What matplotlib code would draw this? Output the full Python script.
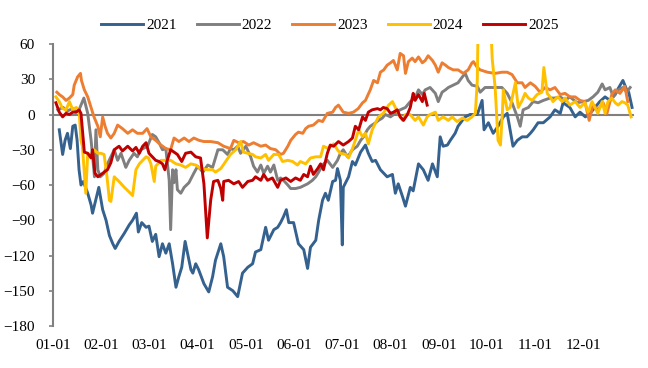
import numpy as np
import matplotlib.pyplot as plt

plt.rcParams['font.family'] = ['Liberation Serif', 'DejaVu Serif']

# x positions are in months since 01-01 (0 = 01-01, 1 = 02-01, ...)
t_2021 = [0.13, 0.20, 0.25, 0.30, 0.36, 0.41, 0.46, 0.50, 0.54, 0.58, 0.63, 0.72, 0.79, 0.82, 0.88, 0.95,
          1.03, 1.10, 1.17, 1.24, 1.29, 1.37, 1.48, 1.58, 1.65, 1.73, 1.77, 1.84, 1.93, 1.99, 2.06, 2.13,
          2.20, 2.27, 2.34, 2.41, 2.48, 2.55, 2.61, 2.67, 2.74, 2.79, 2.86, 2.90, 2.96, 3.02, 3.13, 3.23,
          3.31, 3.37, 3.48, 3.54, 3.62, 3.73, 3.83, 3.93, 4.04, 4.14, 4.20, 4.31, 4.41, 4.47, 4.58, 4.66,
          4.72, 4.78, 4.84, 4.89, 4.99, 5.09, 5.20, 5.28, 5.34, 5.45, 5.51, 5.59, 5.65, 5.71, 5.80, 5.86,
          5.90, 5.96, 6.00, 6.02, 6.13, 6.21, 6.27, 6.38, 6.48, 6.54, 6.62, 6.69, 6.79, 6.93, 7.04, 7.10,
          7.16, 7.25, 7.31, 7.41, 7.47, 7.58, 7.68, 7.78, 7.87, 7.97, 8.03, 8.09, 8.18, 8.24, 8.34, 8.40,
          8.49, 8.55, 8.65, 8.80, 8.90, 8.94, 9.03, 9.13, 9.23, 9.34, 9.42, 9.48, 9.54, 9.63, 9.73, 9.83,
          9.90, 9.96, 10.06, 10.17, 10.31, 10.41, 10.52, 10.58, 10.72, 10.83, 10.93, 11.04, 11.14, 11.24,
          11.34, 11.45, 11.55, 11.66, 11.72, 11.82, 11.90, 11.94, 12.01]
v_2021 = [-13, -34, -22, -16, -29, -10, -9, -22, -47, -60, -57, -67, -77, -84, -74, -62,
          -81, -90, -103, -110, -114, -108, -101, -94, -90, -84, -100, -92, -96, -95, -108, -102,
          -121, -110, -118, -110, -127, -147, -138, -130, -108, -118, -132, -135, -127, -132, -144, -151,
          -138, -124, -110, -121, -147, -150, -155, -135, -130, -127, -117, -115, -96, -107, -98, -96,
          -92, -87, -81, -92, -92, -110, -115, -131, -113, -107, -90, -73, -67, -73, -57, -56,
          -46, -56, -111, -62, -53, -40, -43, -32, -26, -33, -40, -39, -47, -53, -51, -67,
          -59, -70, -78, -62, -65, -42, -47, -56, -42, -53, -19, -27, -26, -22, -16, -10,
          -5, -2, 0, 0, 12, -13, -7, -16, -10, -2, 1, -13, -27, -22, -19, -19,
          -16, -13, -7, -7, -2, 4, 1, 10, 6, -2, 2, -2, 1, 6,
          11, 15, 12, 17, 22, 29, 21, 19, 6]

t_2022 = [0.10, 0.21, 0.29, 0.41, 0.48, 0.54, 0.64, 0.72, 0.79, 0.86, 0.89, 0.93, 0.98, 1.06, 1.13, 1.20,
          1.27, 1.34, 1.41, 1.51, 1.58, 1.68, 1.75, 1.82, 1.96, 2.06, 2.13, 2.20, 2.27, 2.34, 2.41, 2.44,
          2.48, 2.51, 2.55, 2.58, 2.65, 2.72, 2.82, 2.92, 3.00, 3.11, 3.21, 3.31, 3.42, 3.52, 3.62, 3.68,
          3.75, 3.83, 3.89, 4.00, 4.10, 4.16, 4.24, 4.31, 4.37, 4.45, 4.51, 4.58, 4.66, 4.72, 4.78, 4.87,
          4.93, 5.03, 5.13, 5.28, 5.38, 5.45, 5.51, 5.59, 5.69, 5.80, 5.90, 5.96, 6.02, 6.11, 6.21, 6.31,
          6.38, 6.44, 6.52, 6.58, 6.69, 6.75, 6.83, 6.89, 7.00, 7.10, 7.20, 7.31, 7.41, 7.51, 7.58, 7.66,
          7.72, 7.82, 7.93, 7.99, 8.07, 8.14, 8.20, 8.30, 8.40, 8.49, 8.55, 8.61, 8.69, 8.80, 8.86, 8.96,
          9.13, 9.31, 9.42, 9.52, 9.63, 9.69, 9.75, 9.86, 9.96, 10.06, 10.17, 10.31, 10.41, 10.52, 10.62,
          10.72, 10.87, 11.00, 11.10, 11.20, 11.30, 11.39, 11.45, 11.55, 11.62, 11.72, 11.82, 11.90, 11.97]
v_2022 = [4, 6, 3, 5, 2, 4, 14, 1, -22, -53, -13, -47, -53, -50, -42, -36,
          -30, -39, -33, -45, -39, -33, -36, -30, -27, -17, -19, -24, -30, -29, -56, -98,
          -47, -58, -47, -64, -67, -62, -58, -50, -44, -49, -43, -45, -30, -30, -34, -29,
          -30, -27, -33, -27, -36, -44, -49, -43, -50, -44, -49, -43, -56, -54, -56, -60,
          -63, -63, -62, -59, -56, -53, -49, -43, -39, -45, -39, -33, -30, -36, -30, -27,
          -22, -19, -13, -10, -7, -5, -3, 0, -2, 1, 4, 6, 11, 14, 21, 17,
          21, 23, 18, 11, 19, 21, 23, 25, 27, 32, 35, 29, 25, 24, 19, 23,
          23, 23, 18, 10, -2, -10, 4, 6, 11, 10, 12, 14, 14, 15, 12,
          15, 10, 11, 12, 15, 19, 26, 21, 23, 15, 21, 23, 19, 23]

t_2023 = [0.08, 0.13, 0.20, 0.27, 0.34, 0.41, 0.44, 0.51, 0.57, 0.59, 0.65, 0.72, 0.79, 0.85, 0.93, 0.98,
          1.03, 1.08, 1.13, 1.20, 1.27, 1.34, 1.44, 1.55, 1.65, 1.75, 1.86, 1.95, 2.03, 2.13, 2.24, 2.34,
          2.44, 2.51, 2.61, 2.72, 2.82, 2.92, 3.03, 3.13, 3.27, 3.42, 3.54, 3.68, 3.75, 3.85, 3.95, 4.06,
          4.16, 4.31, 4.41, 4.51, 4.62, 4.72, 4.78, 4.87, 4.93, 5.03, 5.09, 5.18, 5.24, 5.30, 5.40, 5.51,
          5.59, 5.69, 5.80, 5.86, 5.92, 6.02, 6.13, 6.23, 6.33, 6.42, 6.48, 6.58, 6.65, 6.73, 6.79, 6.86,
          6.93, 7.00, 7.06, 7.14, 7.20, 7.27, 7.31, 7.37, 7.45, 7.51, 7.58, 7.66, 7.72, 7.78, 7.87, 7.93,
          7.99, 8.07, 8.14, 8.20, 8.30, 8.40, 8.51, 8.61, 8.69, 8.72, 8.80, 8.86, 9.01, 9.17, 9.31, 9.42,
          9.52, 9.63, 9.73, 9.79, 9.90, 10.00, 10.10, 10.21, 10.31, 10.41, 10.52, 10.62, 10.72, 10.83,
          10.93, 11.03, 11.12, 11.20, 11.30, 11.41, 11.49, 11.59, 11.66, 11.76, 11.86, 11.92]
v_2023 = [19, 17, 15, 12, 14, 17, 25, 32, 35, 29, 21, 15, 6, -2, -10, -19,
          -2, -10, -16, -20, -16, -9, -12, -16, -13, -16, -16, -12, -19, -22, -26, -29,
          -30, -20, -23, -20, -23, -20, -22, -23, -23, -24, -27, -29, -22, -24, -23, -26,
          -24, -27, -26, -29, -30, -34, -33, -27, -22, -17, -15, -16, -12, -10, -9, -5,
          -6, 1, 2, 6, 8, 2, 1, 2, 5, 10, 12, 21, 29, 27, 36, 38,
          42, 44, 46, 38, 52, 50, 35, 45, 48, 45, 49, 44, 46, 50, 46, 42,
          36, 44, 42, 40, 38, 38, 35, 38, 44, 45, 40, 38, 36, 35, 36, 36,
          34, 27, 27, 23, 27, 24, 19, 23, 21, 23, 17, 18, 15, 15,
          12, 11, -5, 8, 4, 10, 1, 17, 21, 18, 24, 11]

t_2024 = [0.06, 0.13, 0.20, 0.27, 0.34, 0.41, 0.48, 0.54, 0.58, 0.61, 0.68, 0.72, 0.79, 0.85, 0.93, 0.99,
          1.06, 1.12, 1.17, 1.20, 1.27, 1.37, 1.48, 1.58, 1.65, 1.72, 1.79, 1.86, 1.93, 1.98, 2.03, 2.10,
          2.13, 2.24, 2.34, 2.44, 2.55, 2.65, 2.75, 2.86, 2.96, 3.06, 3.21, 3.31, 3.37, 3.48, 3.58, 3.68,
          3.79, 3.89, 3.95, 4.04, 4.14, 4.20, 4.31, 4.41, 4.47, 4.58, 4.68, 4.76, 4.87, 4.97, 5.07, 5.13,
          5.24, 5.34, 5.45, 5.55, 5.61, 5.71, 5.82, 5.90, 5.96, 6.07, 6.13, 6.21, 6.27, 6.34, 6.42, 6.48,
          6.54, 6.62, 6.69, 6.75, 6.85, 6.96, 7.04, 7.10, 7.16, 7.25, 7.31, 7.41, 7.51, 7.58, 7.68, 7.76,
          7.82, 7.93, 7.99, 8.09, 8.20, 8.28, 8.38, 8.49, 8.59, 8.69, 8.76, 8.80, 8.82, 9.07, 9.11, 9.17,
          9.23, 9.28, 9.32, 9.34, 9.42, 9.48, 9.59, 9.65, 9.73, 9.79, 9.86, 9.94, 10.04, 10.14, 10.18,
          10.25, 10.31, 10.37, 10.47, 10.56, 10.62, 10.72, 10.83, 10.93, 11.03, 11.10, 11.18, 11.24, 11.30,
          11.39, 11.45, 11.51, 11.59, 11.66, 11.72, 11.80, 11.86, 11.92, 11.99]
v_2024 = [15, 11, 5, 4, 11, 4, 6, 4, -22, -27, -67, -33, -36, -30, -33, -33,
          -34, -53, -73, -74, -53, -57, -62, -66, -69, -47, -42, -39, -36, -37, -42, -57,
          -44, -39, -39, -39, -42, -43, -45, -42, -43, -46, -47, -47, -49, -46, -40, -34,
          -30, -23, -32, -33, -34, -36, -37, -34, -39, -34, -34, -40, -39, -40, -43, -40,
          -42, -37, -36, -36, -27, -29, -25, -30, -33, -34, -37, -29, -22, -13, -19, -16,
          -25, -13, -7, -2, 1, 8, 11, 6, 1, -5, 0, 0, -5, -2, -9, -2,
          0, 2, -5, -2, -5, -2, -6, -3, -5, -2, 1, 29, 85, 85, 47, 23,
          -22, -26, 1, 21, 4, 6, 27, 6, 12, 18, 14, 12, 17, 19, 40,
          18, 15, 11, 15, 11, 14, 8, 11, 6, 10, 2, 11, 6, 1,
          11, 1, 11, 14, 10, 8, 11, 10, 8, -2]

t_2025 = [0.06, 0.13, 0.20, 0.27, 0.34, 0.41, 0.48, 0.54, 0.58, 0.65, 0.72, 0.79, 0.82, 0.87, 0.93, 1.03,
          1.13, 1.20, 1.27, 1.37, 1.44, 1.55, 1.65, 1.72, 1.79, 1.86, 1.93, 1.99, 2.06, 2.13, 2.20, 2.27,
          2.32, 2.37, 2.44, 2.51, 2.58, 2.67, 2.75, 2.86, 2.96, 3.06, 3.13, 3.20, 3.27, 3.33, 3.42, 3.48,
          3.52, 3.54, 3.64, 3.75, 3.85, 3.93, 4.04, 4.14, 4.20, 4.31, 4.37, 4.45, 4.55, 4.66, 4.72, 4.83,
          4.93, 5.03, 5.13, 5.20, 5.28, 5.34, 5.40, 5.49, 5.55, 5.61, 5.69, 5.75, 5.82, 5.92, 6.02, 6.13,
          6.21, 6.27, 6.34, 6.42, 6.48, 6.54, 6.62, 6.73, 6.79, 6.85, 6.93, 7.00, 7.06, 7.14, 7.20, 7.27,
          7.35, 7.41, 7.45, 7.47, 7.51, 7.58, 7.66, 7.70, 7.76]
v_2025 = [10, 2, -2, 1, 0, 2, 2, 4, 1, -32, -33, -37, -30, -50, -53, -50,
          -47, -41, -30, -27, -31, -27, -31, -28, -33, -27, -24, -33, -36, -39, -40, -42,
          -47, -39, -30, -32, -34, -40, -33, -32, -36, -37, -59, -105, -73, -57, -56, -63,
          -73, -57, -56, -59, -57, -62, -57, -56, -53, -56, -51, -56, -54, -62, -56, -54,
          -57, -54, -56, -51, -53, -44, -51, -46, -42, -47, -33, -26, -27, -23, -26, -23,
          -20, -10, -13, -2, -5, 2, 4, 5, 4, 6, 5, 1, 2, 4, -2, -5,
          0, 6, 14, 18, 12, 17, 11, 18, 8]

years = ['2021', '2022', '2023', '2024', '2025']
colors = ['#35618F', '#7F7F7F', '#ED7D31', '#FFC000', '#C00000']
month_labels = ['01-01', '02-01', '03-01', '04-01', '05-01', '06-01',
                '07-01', '08-01', '09-01', '10-01', '11-01', '12-01']

fig = plt.figure(figsize=(6.48, 3.68), dpi=100)
ax = fig.add_axes([0.0818, 0.1141, 0.8966, 0.7663])

series = [(t_2021, v_2021), (t_2022, v_2022), (t_2023, v_2023), (t_2024, v_2024), (t_2025, v_2025)]
for (t, v), yr, c in zip(series, years, colors):
    ax.plot(t, v, color=c, lw=2.1, label=yr, solid_joinstyle='round', zorder=3)

ax.axhline(0, color='#808080', lw=1.5, zorder=2)

ax.set_xlim(0, 12.05)
ax.set_ylim(-180, 60)
ax.set_yticks(np.arange(-180, 61, 30))
ax.set_xticks(np.arange(12))
ax.set_xticklabels(month_labels)

for s in ['top', 'right', 'bottom']:
    ax.spines[s].set_visible(False)
ax.spines['left'].set_color('#808080')
ax.spines['left'].set_linewidth(1.5)

ax.tick_params(axis='y', direction='out', length=3, width=1.2, color='#808080',
               labelsize=11, pad=10)
ax.tick_params(axis='x', length=0, labelsize=11, pad=9)

fig.legend(loc='center', bbox_to_anchor=(330 / 648, 0.932), ncol=5, frameon=False,
           fontsize=11, handlelength=2.75, handletextpad=0.2, columnspacing=1.3)

fig.savefig('out.png', dpi=100)
